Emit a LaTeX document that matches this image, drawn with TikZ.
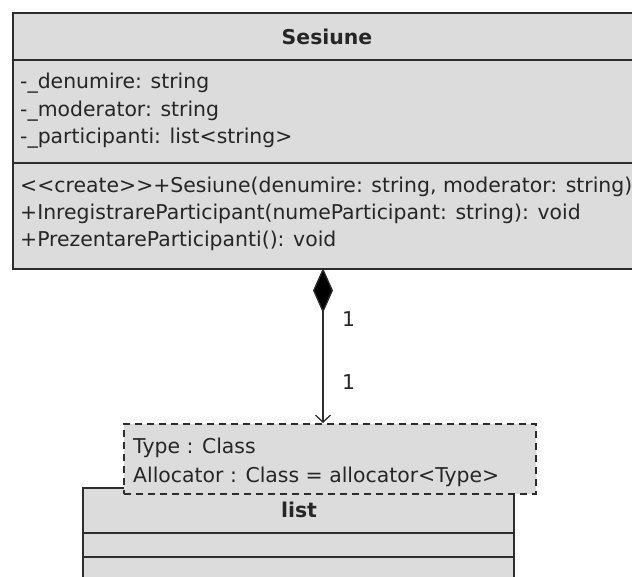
\documentclass[tikz,border=0pt]{standalone}
\usepackage{fontspec}
\setmainfont{DejaVu Sans}
\usetikzlibrary{arrows.meta,positioning}
\definecolor{umlgray}{RGB}{220,220,220}
\definecolor{umlline}{RGB}{45,45,45}

\tikzset{
  classbox/.style={rectangle, draw=umlline, line width=2pt, fill=umlgray, anchor=north west, inner sep=0},
  parambox/.style={rectangle, draw=umlline, line width=2pt, dash pattern=on 7pt off 5pt, fill=umlgray, anchor=north west, inner sep=0},
  sepline/.style={draw=umlline, line width=2pt},
  umltext/.style={anchor=west, inner sep=0, text=black!85, font=\fontsize{20.4}{24}\selectfont},
  umltitle/.style={inner sep=0, text=black!85, font=\fontsize{20.4}{24}\selectfont\bfseries},
  comp/.style={draw=umlline, line width=1.3pt, {Diamond[length=45pt,width=20pt,fill=black]}-{Straight Barb[length=7pt,width=15pt]}}
}

\begin{document}
\begin{tikzpicture}[x=1pt,y=-1pt]
\clip (0,0) rectangle (632,576);
\fill[white] (0,0) rectangle (632,576);
% class Sesiune
\node[classbox, minimum width=640, minimum height=256] (sesiune) at (12,12) {};
\node[umltitle] (sestitle) at (327,37) {Sesiune};
\draw[sepline] (sesiune.west |- 0,60) -- (sesiune.east |- 0,60);
\draw[sepline] (sesiune.west |- 0,163) -- (sesiune.east |- 0,163);
\node[umltext] (attr1) at (20,83) {-\_denumire: string};
\node[umltext] (attr2) at (20,111) {-\_moderator: string};
\node[umltext] (attr3) at (20,138) {-\_participanti: list<string>};
\node[umltext] (op1) at (20,187) {<{}<create>{}>+Sesiune(denumire: string, moderator: string)};
\node[umltext] (op2) at (20,214) {+InregistrareParticipant(numeParticipant: string): void};
\node[umltext] (op3) at (20,241) {+PrezentareParticipanti(): void};

% class list with template parameters
\node[classbox, minimum width=431, minimum height=120] (list) at (82,487) {};
\node[umltitle] (listtitle) at (299,510) {list};
\draw[sepline] (list.west |- 0,533) -- (list.east |- 0,533);
\draw[sepline] (list.west |- 0,557) -- (list.east |- 0,557);
\node[parambox, minimum width=412, minimum height=70] (tparam) at (123,423) {};
\node[umltext] (par1) at (133,448) {Type : Class};
\node[umltext] (par2) at (133,477) {Allocator : Class = allocator<Type>};

% composition
\coordinate (agg) at (323,268);
\draw[comp] (agg) -- (agg |- tparam.north);
\node[umltext] (mult1) at (342,319) {1};
\node[umltext] (mult2) at (342,382) {1};
\end{tikzpicture}
\end{document}
